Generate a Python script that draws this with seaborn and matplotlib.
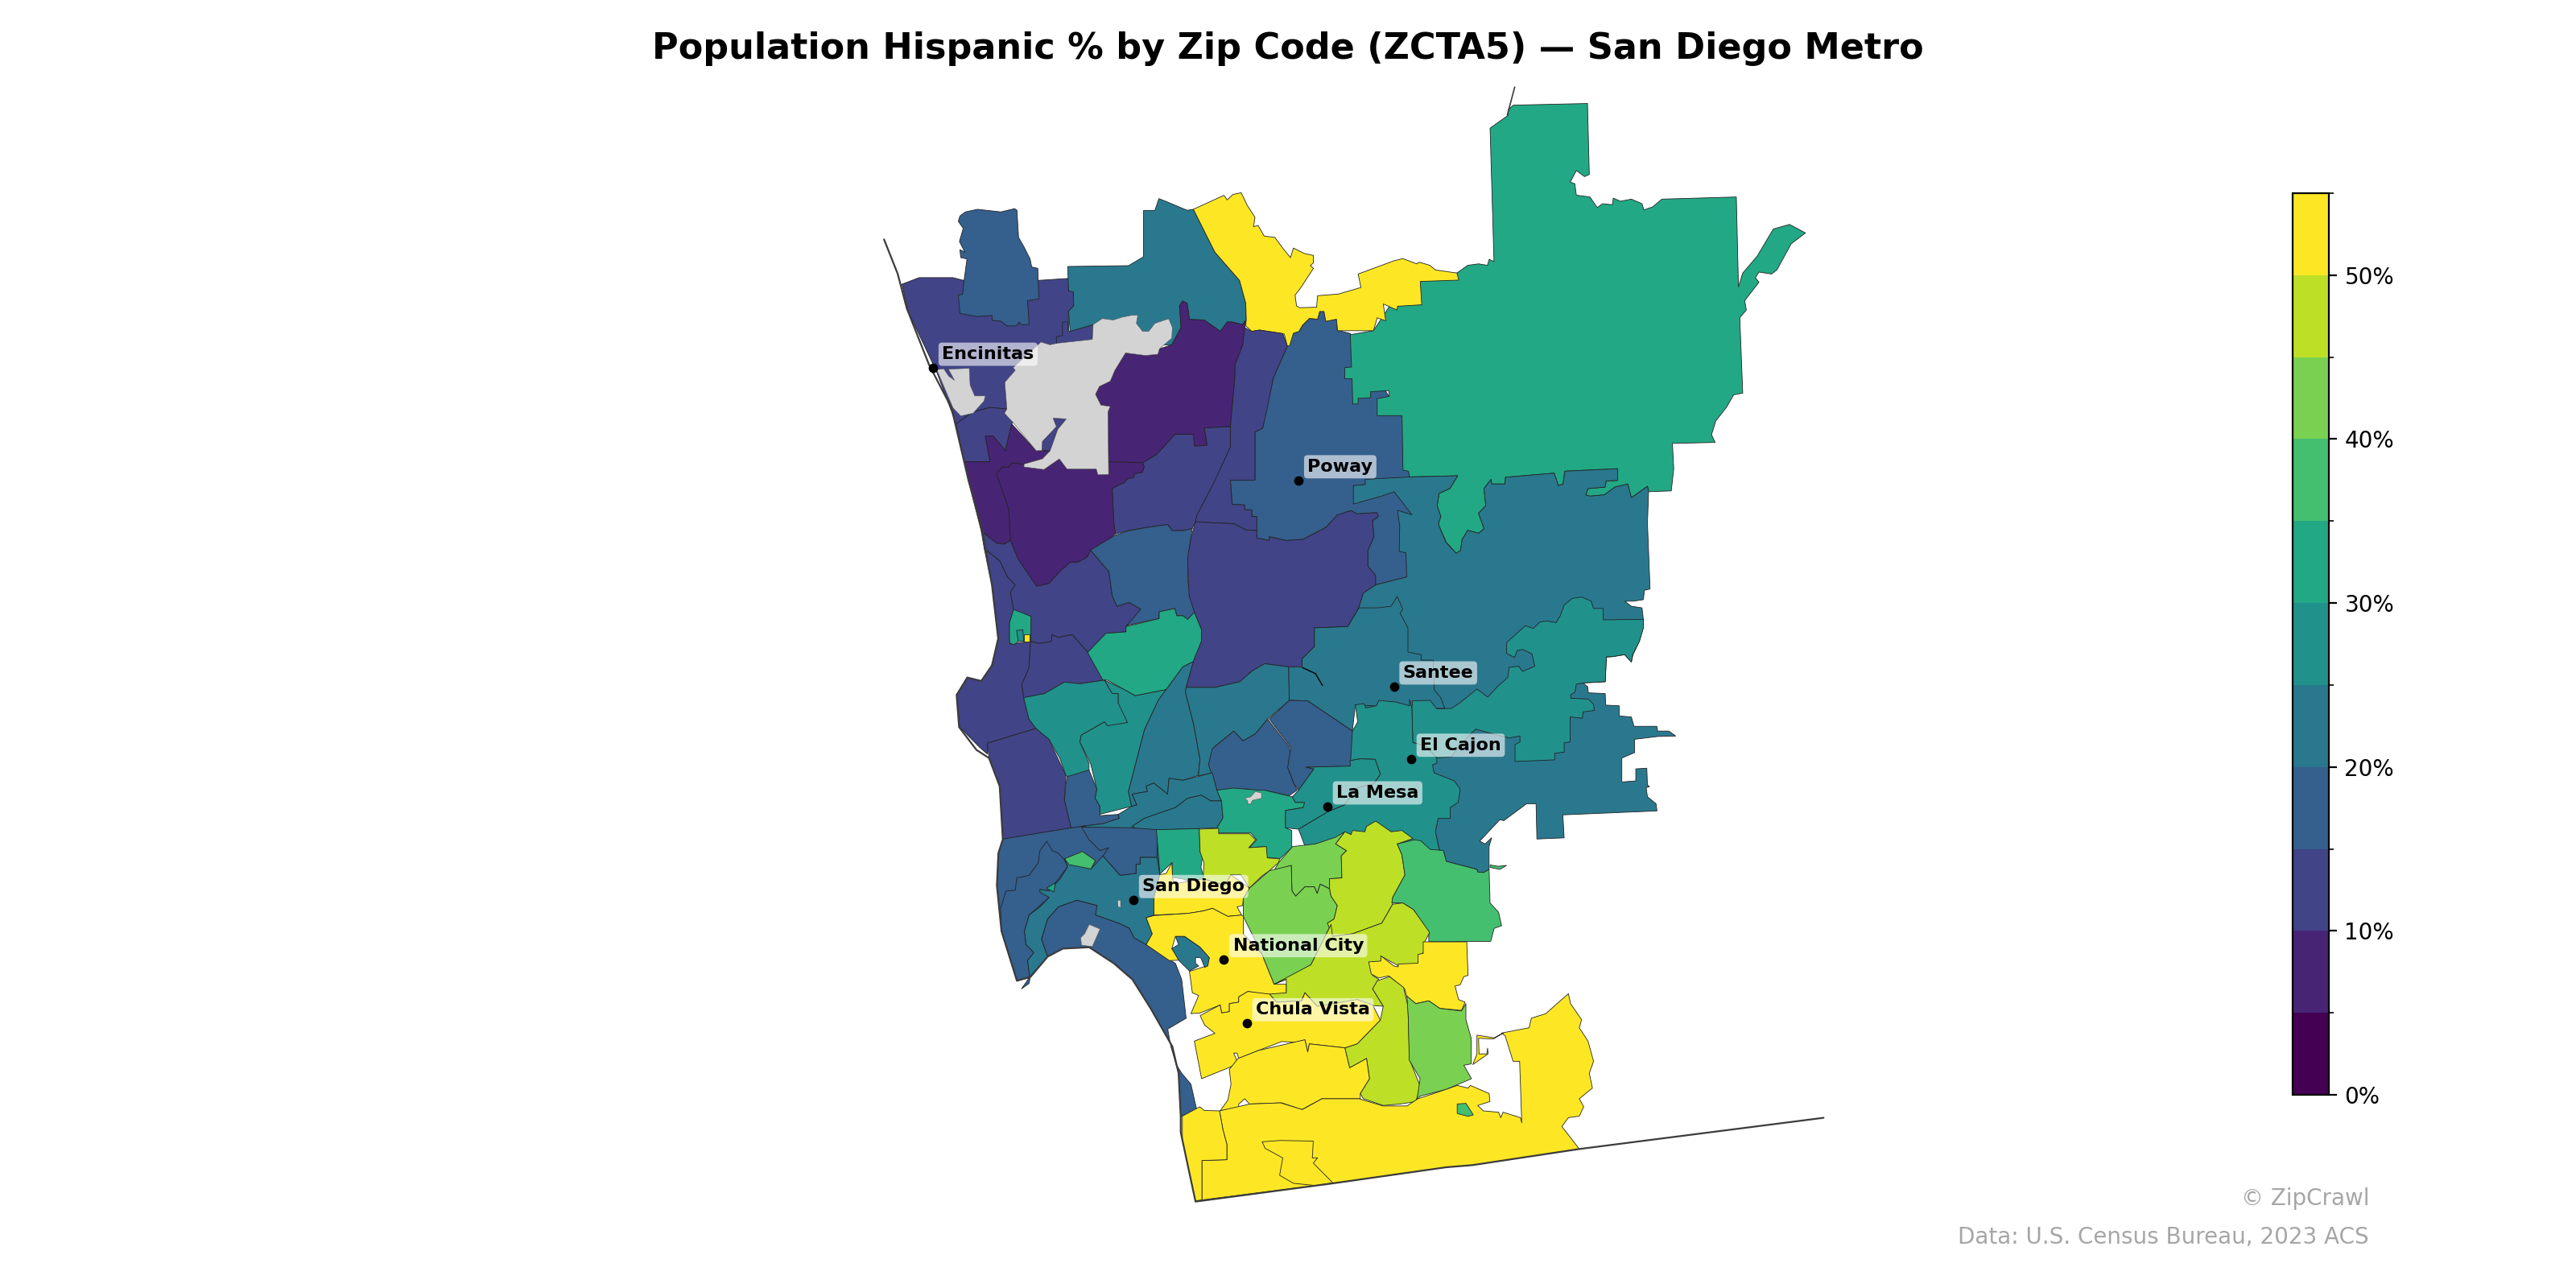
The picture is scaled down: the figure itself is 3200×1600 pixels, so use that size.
import numpy as np
import pandas as pd
import matplotlib
matplotlib.use("Agg")
import matplotlib.pyplot as plt
from matplotlib.cm import ScalarMappable
from matplotlib.collections import PolyCollection
from matplotlib.colors import Normalize
from matplotlib.ticker import MultipleLocator
import seaborn as sns

TITLE = "Population Hispanic % by Zip Code (ZCTA5) \u2014 San Diego Metro"
CREDIT = "\u00a9 ZipCrawl"
SOURCE = "Data: U.S. Census Bureau, 2023 ACS"

CITY_NAMES = ["Encinitas", "Poway", "Santee", "El Cajon", "La Mesa", "San Diego", "National City", "Chula Vista"]
CITY_X = [568, 790.5, 848.5, 859, 808, 690, 745, 759]
CITY_Y = [224, 292.5, 418, 462, 491, 548, 584, 623]

CBAR_TICKS = [0, 10, 20, 30, 40, 50]

# map outlines, listed back to front, (x, y) in map units
north_coast = [(549,173),(559.5,169),(580,169),(586.7,170.7),(631.7,170.7),(650,169.5),(653.3,177.5),(653.6,186.2),(650.4,189.5),(650.4,201.7),(665.4,197.6),(664.9,206.6),(640,215),(620,225),(611.6,232.7),(612.9,249),(602.6,248),(592.3,250.7),(582,258),(570,226),(553,190)]
leucadia = [(582,258),(592.3,250.7),(602.6,248),(612.9,249),(611.4,251.5),(616.7,257),(615.8,258),(612,274.4),(604.5,265.4),(599.8,265.4),(602.6,281),(587,281)]
oceanside = [(587.6,129),(595,127.4),(609.2,129),(617.6,127),(619,128),(620,144.5),(623.3,150.3),(627,157.6),(628,162.5),(631.7,163.3),(632.3,182),(625.5,183),(626.4,197.6),(621.4,197.6),(620.4,196),(618.6,198.4),(613,198.4),(609.2,195.5),(604,195),(603.8,192),(595,192.7),(584.3,190.8),(583.3,179.7),(586,179),(586.7,171.5),(588.6,157.6),(584.8,156.8),(584.3,152),(587.3,153.5),(584,147),(586.3,139),(583.3,134.7),(584.3,131.5)]
poway = [(783.6,210.7),(775,230),(771,248),(768.6,260.5),(764,263),(764,292),(749,292),(750,307),(757.6,307.4),(757.6,310.3),(762,310.3),(762,314.4),(765,314.4),(765,327.5),(772.6,329),(772.6,326.7),(783,329),(793,328.3),(807,321),(814,313.6),(822,310.8),(826,312.8),(838,312),(839,314.4),(835.4,317),(836.3,326.7),(832.6,335),(832.6,344.6),(837.3,350.3),(837.3,356),(856.3,351.2),(860,340),(862,300),(858,290.3),(853.4,253),(838,230),(823,210),(822,203),(814,201),(813.5,194.3),(807,195.6),(806,189.6),(803.3,189.6),(802,194.3),(797,193.8),(793,198),(790.6,201.8),(787.3,202.8)]
ramona = [(836,201.3),(850,180),(860,168),(886.8,166.2),(893.4,161.5),(900,160.6),(905.4,161.5),(906.5,157.8),(909.4,159.3),(907,78),(918,70.2),(918,66.8),(921.2,64),(966.3,63),(967.4,106.2),(964.5,107.5),(959.5,103.8),(955.8,110.9),(958.6,111.8),(959.5,118.8),(967.8,119.9),(972.2,126.3),(975.5,124),(981.4,124.6),(982,120.6),(986.4,122.5),(993,121.2),(999.5,124),(1000.6,127.8),(1006,125.9),(1011.6,121.2),(1056.9,119.9),(1058.2,174.6),(1060.8,166.2),(1069.6,155.9),(1079.4,139.4),(1089.3,136.6),(1099,141.8),(1090.3,148.4),(1081.6,164.3),(1078.3,166.8),(1070.7,165.6),(1068.5,169),(1070.7,171.8),(1062,183),(1063,188.7),(1059,193.4),(1060.8,239.3),(1055.3,240.3),(1051,247.8),(1044.4,256.2),(1041.8,264.6),(1044,269.3),(1018,269.9),(1018.8,285.3),(1017.3,298.8),(1003.5,299.3),(1002.8,296),(993,303),(990.8,294.6),(983,296.5),(976.6,301.2),(967.8,302),(965.2,301.2),(966.7,297.4),(977,296.5),(977.7,292.8),(984.7,292.4),(984.7,285.3),(952.5,286.8),(951.4,294.6),(948.6,295.6),(946,288),(916.4,290.5),(916,294.6),(908,294.6),(907.6,291.8),(903.3,297.4),(904.4,307.8),(900,312.4),(903.3,321.8),(900,324.6),(893.4,322.8),(890,328.4),(889,335),(886.4,336.8),(880.3,330),(875.5,319),(877,314.3),(874.8,307.8),(876,300.3),(882.5,297.4),(887.3,289.6),(858,290.3),(857.3,286.8),(854,286.2),(853.4,253),(838.3,253),(838.3,242.7),(845.7,241.2),(845.3,237.8),(834.3,238.4),(834.3,242.1),(826.7,242.5),(826.7,245.9),(823.4,245.9),(823,230.5),(818.6,230.5),(818.6,223.8),(822.7,223.4),(821.9,203.7)]
fallbrook = [(649.9,162.2),(687,161.7),(696,156.3),(696,128.2),(703,128),(705.4,120.9),(709.5,122.5),(722.6,128),(726.4,127.4),(739.5,153.5),(754.5,170.7),(758.3,184.6),(758.6,194.4),(756.4,197.6),(749.8,196),(747,196),(742.9,201.7),(733,194.8),(724,194.4),(722.6,184.6),(719.8,183.2),(718,186.2),(718.9,199.3),(713.3,209.9),(700,210),(665.4,197.6),(651.4,201.7),(650.4,189.5),(653.6,186.2),(653.3,177.5),(650.4,177.2)]
pala = [(726.4,127.4),(745,118.9),(747,121.7),(750.4,118.4),(755.5,117.3),(759.2,125),(763.9,132.3),(763,138),(765.8,137.2),(769.5,143.7),(776,144.5),(780.8,151),(785.5,156.8),(787.3,151),(794,154.3),(799.5,155.5),(799.5,160),(797.6,161.7),(799.5,163.3),(792,174.8),(788.3,179.7),(789.2,186.2),(791,187.3),(801.4,187),(802,180),(814.6,179),(828.4,175),(826.7,166.8),(848.6,158.7),(854,157.4),(862.3,160.6),(863.9,159.6),(870.4,161.5),(873.7,164.3),(886.8,166.2),(888,170.5),(864.5,171.3),(865.4,185.5),(850.7,186.4),(850.3,188.7),(842,185),(843.5,195.3),(838.3,193.4),(836,201.3),(814.2,201.3),(813.5,194.3),(807,195.6),(805.9,189.6),(803.3,189.6),(802,194.3),(797,193.8),(792.8,198),(790.6,201.8),(787.3,202.8),(785,210.3),(783.6,210.7),(781.7,203.3),(766.7,200.9),(762,201.7),(758.3,198.4),(758.6,194.4),(758.3,184.6),(754.5,170.7),(739.5,153.5)]
inland_strip = [(757.4,199.3),(762,201.7),(766.7,200.9),(780.8,203),(783.6,210.7),(775,230.3),(771.4,248.2),(768.6,260.5),(763.9,263),(763.9,292.3),(748.9,292.3),(749,294),(750,307),(757.6,307.4),(757.6,310.3),(761.9,310.3),(761.9,314.4),(765,314.4),(765,323),(758.5,322.6),(751,318.8),(727.6,317.7),(728.5,313.6),(738,295),(738.6,294),(748.9,272),(748.9,259.7),(751.7,228.6),(751.7,222),(756.4,210)]
bonsall = [(758.3,195),(756.4,210),(751.7,222),(751.7,228.6),(748.9,259.7),(733,260.5),(734.9,271),(727,271.6),(726.4,264.3),(715.1,264.3),(711.4,268.7),(703.9,276.8),(695.5,281.7),(674.8,281),(674.4,250.7),(675.8,247.4),(670.1,246.6),(666.8,240),(669.2,235.2),(675.8,232),(678.6,225.4),(685.1,214.8),(697.3,216.4),(704.8,215.6),(705.8,212.3),(713.3,209.9),(718.9,199.3),(718,186.2),(719.8,183.2),(722.6,184.6),(724,194.4),(733,194.8),(742.9,201.7),(747,196),(749.8,196),(756.4,197.6)]
escondido_west = [(683.5,294),(677,297.3),(677.9,316.9),(678.8,325),(688.2,322.6),(698.5,321),(710.7,319.3),(713.5,323),(720,323),(725.7,321.8),(727.6,317.7),(728.5,313.6),(738.8,294),(748.9,272),(748.9,259.7),(733,260.5),(734.9,271),(727,271.6),(726.4,264.3),(715.1,264.3),(711.4,268.7),(703.9,276.8),(695.5,281.7),(696.4,284),(695.4,287.4),(690.8,288.3),(689.8,290.7),(686,291.5),(684.2,294)]
san_marcos_hole = [(641,254.5),(649.1,255),(643.9,261.3),(639.2,274.4),(634.1,274),(634.5,268.7),(643,259.7)]
carmel_north = [(606.4,288.3),(610,284.2),(613.9,284.2),(615.8,281.7),(623.3,282.5),(635.4,285.8),(644.8,279.3),(649.5,285.5),(667.3,285.5),(668.3,289),(674.8,288.8),(674.8,281),(695.5,281.7),(696.4,284),(695.4,287.4),(690.8,288.3),(689.8,290.7),(686,291.5),(684.2,294),(683.5,294),(677,297.3),(677.9,316.9),(678.8,325),(670.4,333.2),(663.8,334.8),(662,339),(656.3,342.2),(651.6,342.2),(646,347),(638.5,355.2),(631,356.9),(619.8,340.5),(615,329),(614.1,310.3),(608.5,294)]
cardiff = [(587,281),(602.6,281),(599.8,265.4),(604.5,265.4),(612,274.4),(615.8,258),(630.8,274.4),(639.2,274.4),(634.5,279.3),(623.3,282.5),(615.8,281.7),(613.9,284.2),(610,284.2),(606.4,288.3),(608.5,294),(614,310),(615,329),(611.3,331.2),(606.6,330.7),(597.3,323.4),(589.8,294)]
del_mar = [(597.3,323.4),(606.6,330.7),(611.3,331.2),(615,329),(619.8,340.5),(631,356.9),(638.5,355.2),(646,347),(651.6,342.2),(656.3,342.2),(662,339),(663.8,334.8),(669.4,341.4),(675,348),(677,362.6),(679.8,369),(687.3,366.7),(694.4,370.8),(692.9,374),(685.4,381.4),(685.4,384.6),(674.1,385.5),(670.4,391.2),(662,396.9),(652.6,386.3),(644.1,388),(640.4,386.3),(640,390.4),(632.9,391.7),(627.3,390.4),(627.6,375.2),(617,371.6),(615,360.5),(617.9,356),(613.2,351.2),(608.5,341.4),(599.1,334)]
la_jolla_north = [(599.1,334),(608.5,341.4),(613.2,351.2),(617.9,356),(615,360.5),(617,371.6),(614.5,379),(615,392),(627.3,390.4),(626.3,406.7),(622,416.5),(623.1,424.7),(626.3,437.7),(630.6,443.4),(601,452.4),(601,459),(596.3,454.9),(584.1,442.6),(582.3,423),(588.8,412.4),(597.3,414.5),(603.8,405),(607.6,388.7),(603.8,356)]
pacific_beach = [(601,452.4),(630.6,443.4),(638.5,450),(648.8,472),(647.9,486.7),(652,503.9),(610.4,510.9),(608.5,478.6),(602,461.4)]
clairemont = [(627.3,390.4),(632.9,391.7),(640,390.4),(640.4,386.3),(644.1,388),(652.6,386.3),(662,396.9),(672.3,414),(657.3,416.2),(647.9,415.2),(635.7,422.2),(623.1,424.7),(622,416.5),(626.3,406.7)]
campus = [(617,371),(627.6,375.2),(627.3,390.4),(619.8,390.4),(617,392.5),(614.5,391.2),(614.5,379)]
campus_inner = [(618.8,383.8),(622.6,383.3),(623.1,390.4),(619.8,390.4)]
campus_dorms = [(623.1,386),(626.9,386),(626.9,390.4),(623.1,390.4)]
rancho_bernardo = [(663.8,334.8),(678.8,325.8),(687.3,323),(698.5,321),(710.7,319.3),(713.5,323),(720,323),(725.7,321.8),(723.8,335),(722.9,352.8),(724.8,364.2),(727,372.7),(722.9,377),(720,374.8),(716.3,374.8),(715,370.4),(705.6,372.4),(705.6,376.5),(686.3,380.6),(685.4,381.4),(694.4,370.8),(687.3,366.7),(679.8,369),(677,362.6),(675,348),(669.4,341.4)]
mira_mesa = [(662,397.2),(673.2,385.5),(685.4,384.6),(685.4,381.4),(705.6,376.5),(705.6,372.4),(715,370.4),(716.3,374.8),(720,374.8),(722.9,377),(727,372.7),(731.3,383),(731.3,390.4),(726.7,402.6),(720,405.9),(709.8,419.8),(691,423.5),(684.4,419.8),(674.1,414),(671.3,414)]
linda_vista = [(623.1,424.7),(635.7,422.2),(647.9,415.2),(657.3,416.2),(672.3,414),(677,422.2),(680.7,422.2),(680.7,428),(683.1,428.7),(686.3,439.8),(679.8,441.8),(674.1,441.8),(672.3,439.4),(658.2,447.5),(657.3,451.6),(662.9,464.7),(662.9,468.7),(657.3,471.2),(651.6,473.7),(648.8,472),(645,461.4),(638.5,450),(630.6,443.4),(626.3,437.7)]
kearny_mesa = [(672.3,414),(684.4,419.8),(691,423.5),(709.8,419.8),(705,426.3),(696.6,444.3),(686.9,481.8),(688.8,490.8),(669.4,495.7),(669.4,490.8),(666.6,485.9),(667.6,480.2),(663.8,464.7),(657.3,451.6),(658.2,447.5),(672.3,439.4),(674.1,441.8),(686.3,439.8),(680.7,428),(680.7,422.2),(677,422.2)]
tierrasanta = [(709.8,419.8),(720,405.9),(726.7,402.6),(722,418.1),(721.6,421.4),(726.6,441),(730.4,462.2),(729.4,472),(720,475),(711.6,473.7),(710.7,483.4),(702.3,476.6),(697.6,478.6),(698.5,481.8),(689.1,483.4),(692,490),(688.8,490.8),(686.9,481.8),(696.6,444.3),(705,426.3)]
alpine = [(823.8,295.6),(831,295),(831,291.8),(858,290.3),(887.3,289.6),(882.5,297.4),(876,300.3),(874.8,307.8),(877,314.3),(875.5,319),(880,330),(886.4,336.8),(889,335),(890,328.4),(893.4,322.8),(900,324.6),(903.3,321.8),(900,312.4),(904.4,307.8),(903.3,297.4),(907.6,291.8),(908,294.6),(916,294.6),(916.4,290.5),(946,288),(948.6,295.6),(951.4,294.6),(952.5,286.8),(984.7,285.3),(984.7,292.4),(977.7,292.8),(977,296.5),(966.7,297.4),(965.2,301.2),(967.8,302),(976.6,301.2),(983,296.5),(990.8,294.6),(993,303),(1002.8,296),(1003.5,299.3),(1002.8,318.5),(1004.4,358.5),(1001,359.3),(1000.3,365),(994.6,365.9),(989,366),(993,369),(999.5,370),(1000.3,377),(1000.3,382),(998,390),(994,398.5),(993,403),(989,398.5),(981.5,399.7),(977.8,400),(977.1,415),(963.6,415.7),(966.5,418.1),(966.8,421.7),(977.1,422.2),(977.4,429.2),(985.6,429.6),(985.6,435.8),(993,436.4),(994.6,442.1),(1008.5,442.1),(1009,445),(1015.8,445),(1020,448),(1009,448.3),(995,450),(995,458.1),(987.2,461.4),(987.2,476),(995.7,475.3),(995.7,468),(1002.4,467.6),(1002.8,477.7),(1004,478.9),(1002,479.4),(1002.8,485),(1008,489.2),(1008.6,493.6),(951.3,496),(952.1,510),(935.5,510.7),(935,489.2),(929.3,489.2),(915.4,499.5),(912.9,499),(900.7,512),(904,513.7),(908,509.9),(906.4,515.3),(906.4,529.2),(903.1,531.1),(899.5,530.8),(899,529.2),(880.3,524.3),(878.6,517.7),(876.2,517.7),(873.7,506.3),(875.4,498.2),(868,498),(864,470),(830,430),(790,420),(792.6,405.9),(792.6,401),(800.1,393.6),(800.1,382.2),(820.4,381.4),(827,370),(829.8,361),(837.3,356),(856.3,351.2),(855.8,336.5),(851.7,335.6),(852,320),(850.7,310.6),(859.5,313.4),(848.6,299.3),(840.9,302),(823.8,306.8)]
scripps = [(727.6,317.7),(751,318.8),(758.5,322.6),(765,323),(765,327.5),(772.6,329),(772.6,326.7),(783,329),(793.2,328.3),(807.3,321),(813.8,313.6),(822.3,310.8),(826,312.8),(838.2,312),(839,314.4),(835.4,316.9),(836.3,326.7),(832.6,334.8),(832.6,344.6),(837.3,350.3),(837.3,356),(829.8,361),(827,370),(820.4,381.4),(800.1,382.2),(800.1,393.6),(792.6,401),(792.6,405.9),(784.4,405.9),(769.8,404),(762.3,408.3),(754.8,414.9),(739.8,418.4),(722,418.4),(726.6,401.8),(731.3,390.4),(731.3,383),(727,372.4),(723.8,362.6),(722.9,339.7),(724.8,328.3)]
miramar = [(722,418.4),(739.8,418.4),(754.8,414.9),(762.3,408.3),(769.8,404),(784.4,405.9),(784.8,426.3),(771.6,437.7),(764.1,446.7),(756.6,451),(751,445),(739.8,454),(736,465.5),(737.9,470.4),(729.4,472.3),(730.4,462.2),(726.6,441),(721.6,421.4)]
santee = [(827.2,370),(838.6,370),(846.8,369),(850.5,363),(853.8,370.8),(852.2,373.2),(857,382.2),(857,396.9),(865,398.5),(865,401.8),(872.4,401.8),(873,419.8),(877,424.7),(879.4,431.2),(859,431),(825,429),(823.2,445),(796,426.6),(784.8,426.3),(784.4,405.9),(792.6,405.9),(792.6,401),(800.1,393.6),(800.1,382.2),(820.4,381.4)]
el_cajon_east = [(859.4,431.2),(859.8,426.6),(870.5,426.3),(874.6,431.5),(883.5,431.2),(888.4,428),(892.5,424.7),(899,419.4),(905.6,424.3),(911.3,418.1),(917.8,412.4),(918.6,406.2),(924.4,405.5),(926.8,408.7),(934.2,405.5),(932.5,398),(926.8,395.3),(923.5,396),(921.9,400.2),(917,397.7),(917,391.2),(919.8,388.7),(928.4,380.9),(933.3,382.5),(937.4,378.6),(941.5,378),(947.2,379),(949.7,374.8),(952.1,368.3),(957,364.2),(962.8,363.4),(968.5,365.9),(970,370.4),(975.8,370.4),(975.8,377.3),(1000.3,377),(1000.3,382.2),(997.9,390.4),(993.8,398.5),(993,403),(988.9,398.5),(981.5,399.7),(977.8,399.8),(977.1,414.9),(963.6,415.7),(959.5,416.5),(958.6,421.4),(955.9,423),(956.2,425),(966.8,425.5),(970,428.7),(970.4,432.5),(963.6,433.3),(963.2,437.2),(955.7,436.4),(955.7,451.6),(952.1,452.1),(952.1,457.8),(946.4,458.5),(946.4,462.5),(922.2,463.5),(922.2,453.2),(925.2,451.6),(925.2,448),(918.6,449.2),(906,446),(898.2,443.8),(890,452),(883.5,460.6),(874.6,461.4),(868,454),(860,452)]
el_cajon_west = [(825,429),(830.4,428.3),(831.3,430.9),(837.8,429.6),(839.4,426.3),(850,427.4),(858,429.6),(858,425.5),(859.4,431.2),(860,452),(868,454),(874.6,461.4),(874.6,464.7),(872,465.5),(872.9,470.4),(885.2,475.3),(888.8,480.2),(887.6,488.4),(882.7,491.6),(882.7,498.2),(875.4,498.2),(873.7,506.3),(876.2,517.7),(800,530),(790.4,504.7),(808.4,494),(818.2,490),(826.4,479.4),(836.2,477),(840.2,471.2),(837,462.2),(828,461.9),(821.8,463),(821.9,447.5),(826.4,439.4)]
san_carlos = [(756.6,451),(764.1,446.7),(771.6,437.7),(785,455),(785.7,467),(783.8,467),(787.6,477),(789.5,481),(784.8,484.3),(769.8,481),(768,484.3),(760,480.2),(740.7,481),(737.9,472),(735.6,465.5),(737.9,455.7),(751,445)]
mission_trails = [(772.6,437.7),(784.8,426.3),(796,426.6),(823.2,445),(821.9,466.3),(795,467),(799.8,468),(790.4,481),(787.6,477),(783.8,467),(785.7,455)]
base_coast_south = [(610.5,510.7),(652,503.9),(658.2,503),(664.8,503.9),(676,505.5),(689.5,504),(704.3,505),(706,532.5),(702.4,557),(697.7,575),(687,565),(660,550),(640,555),(628,590),(626.4,598.6),(621.8,601.9),(626.4,595.3),(619,597),(609.6,566.8),(606.8,539),(607.7,519.4)]
morena = [(649.4,472.8),(662.9,468.7),(667.6,480.2),(666.6,485.9),(669.4,490.8),(669.4,496.5),(680.7,495.7),(681.3,498.1),(671.3,501.4),(658.2,503),(652,503.9),(647.9,486.7)]
mission_valley = [(658.2,503),(671.3,501.4),(681.3,498.1),(680.7,495.7),(688.8,490.8),(692,490),(689.1,483.4),(698.5,481.8),(697.6,478.6),(702.3,476.6),(710.7,483.4),(711.6,473.7),(720,475),(737.9,470.4),(740.7,481),(743.5,487.5),(737,487.5),(731.3,484),(722.9,485.9),(715.4,491.6),(696.6,498.1),(689.1,503),(696.6,507),(689.5,504),(676,505.5),(664.8,503.9)]
grantville = [(689.1,503),(696.6,498.1),(715.4,491.6),(722.9,485.9),(731.3,484),(737,487.5),(743.5,487.5),(744.4,498),(740.7,503.9),(719.1,504.7),(704.1,505.2),(696.6,507)]
college = [(740.7,481),(751,479.7),(766,481),(769.8,481),(786.6,485),(788.5,488.4),(794.1,488.4),(793.2,491.6),(782.5,493.3),(782.5,503.9),(786.3,505.5),(786.3,516),(779.2,522.6),(770.7,521.8),(770.7,515.3),(760.4,516),(765,511.2),(761.3,507),(741.6,507),(740.7,503.9),(744.4,498),(743.5,487.5)]
college_pocket = [(757.6,485.9),(761.3,485),(764.1,481.8),(767.9,482.7),(767.9,485.9),(762.3,487.2),(761.3,489.5),(759.5,489.2),(759.5,487.5)]
la_mesa = [(786.6,485),(790.4,481),(799.8,468),(795,467),(821.9,466.3),(821.8,463),(828,461.9),(837,462.2),(840.2,471.2),(836.2,477),(826.4,479.4),(818.2,490),(808.4,494),(790.4,504.7),(782.5,503.9),(782.5,493.3),(793.2,491.6),(794.1,488.4),(788.5,488.4)]
point_loma = [(609,552.9),(612.4,542.3),(618,541.9),(618.9,534.4),(626.4,532.8),(632,525.1),(633,517.8),(637.1,512),(640.5,517.8),(644.3,519.4),(648,523.5),(649.9,527.6),(638.6,542.3),(633,541.4),(638.6,546.3),(626.4,557),(623.6,566.8),(624.6,575),(629.3,579.8),(625.5,584.7),(626.8,594.5),(619,597),(609.6,566.8)]
downtown = [(704.3,521.8),(694,521.8),(694,526),(691.5,526),(691.5,531.6),(681.8,532.8),(671.4,521),(664,529),(648,522.7),(649.9,527.6),(645.2,535),(638.6,542.3),(633,541.4),(633,543),(638.6,546.3),(633,552),(626.4,557),(623.6,566.8),(624.6,575),(629.3,579.8),(625.5,584.7),(626.8,594.5),(637.7,582.3),(634,571.7),(637.7,559.4),(644.3,552),(655.5,548),(667.7,551.2),(666.8,557),(680.8,561.9),(687.4,565),(690.2,570.8),(697.7,575),(701.4,568.4),(697.7,558.6),(702.4,557),(702.4,546.3),(706,532.5)]
north_park = [(658.3,503.4),(689.3,503.9),(704.3,505),(704.3,521.8),(694,521.8),(694,526),(691.5,526),(691.5,531.6),(681.8,532.8),(671.4,521),(674.8,516),(669.6,517.8),(663,511.2)]
balboa = [(648,522.7),(658.9,518.3),(666.8,523.8),(664,528.9),(650.8,526.3)]
old_town = [(637.1,540.6),(642.4,537.4),(641.4,543)]
coronado = [(637.7,582.3),(634,571.7),(637.7,559.4),(644.3,552),(655.5,548),(667.7,551.2),(666.8,557),(680.8,561.9),(687.4,565),(690.2,570.8),(697.7,575),(715.5,586.4),(719.3,596.2),(722,619.8),(710.8,626.4),(712.7,637),(717.4,653.3),(718.7,679.5),(728.6,676.2),(724.9,659.9),(719.3,653.3),(716,648),(713.6,637),(700.5,614),(689.3,596.2),(678,586.4),(663,576.6),(647,577.4)]
naval_base = [(663,562.7),(669.6,565.5),(664.9,576.2),(658.3,575.3),(657.8,570.8),(660.2,568.4)]
airport_sliver = [(680.3,548),(682.1,548),(682.1,552.4),(680.6,552)]
oak_park = [(703.9,505),(730,504.4),(730.5,518.6),(732,521),(731,528),(732.8,534),(732,540),(720,535),(713.5,534),(713.5,525),(706,532)]
city_heights = [(730,504.7),(741.8,504.2),(741.8,507.5),(760.5,507.5),(764.3,511.2),(760.1,516),(770.8,515.3),(771.4,522.2),(778.9,522.7),(778.3,525),(772.7,530),(768,533.3),(760.5,540.6),(755.3,532.5),(749.3,532.5),(745.5,539),(732.4,534.9),(732.8,525.1),(730.5,518.6)]
logan = [(713.3,525.1),(709.9,531.6),(706,532.5),(702.4,546.3),(702.4,557),(723,556),(732.4,554.5),(738,552.9),(747.4,557.8),(755.8,557),(753,552),(756.4,551.2),(756.8,547),(760.5,540.6),(749.3,532.5),(745.5,539),(732.4,534.9),(715,538),(713.8,535)]
encanto = [(778.3,525.1),(786.8,515.3),(800.8,513.7),(813,509.6),(818.6,506.3),(813,513.7),(819.6,517.8),(816.4,521),(816.8,534.4),(809.3,534.9),(809.3,541),(805.5,539),(803.6,538.2),(801.8,543.9),(800,539.8),(794.3,539.8),(788.7,545.5),(786.4,542.3),(786,526.8),(775.5,530)]
paradise_hills = [(786,526.8),(786.4,542.3),(788.7,545.5),(794.3,539.8),(800,539.8),(801.8,543.9),(803.6,538.2),(809.3,541),(810.2,545.5),(814,551.2),(812,559.4),(808,561.9),(810.2,562.7),(798,587.2),(783,596.2),(775.5,599.1),(768,580.6),(756.8,557.8),(756.8,547),(760.5,540.6),(772.7,530)]
spring_valley = [(816.4,521),(819.6,517.8),(813,513.7),(818.6,506.3),(822.4,508),(823.3,505.5),(830.8,506.3),(831.8,503),(837.4,499.8),(846.8,506.3),(853.3,505.5),(860,510.4),(850.5,513.7),(853.3,520.2),(855.2,532.5),(847.7,546.3),(847.7,550.4),(841.1,561.9),(823.3,568.4),(811.1,570),(808,561.9),(812,559.4),(814,551.2),(810.2,545.5),(809.3,541),(809.3,534.9),(816.8,534.4)]
rancho_san_diego = [(850.5,513.7),(860.7,511.2),(864.7,511.7),(870.5,517),(878.6,517.7),(880.3,524.3),(899,529.2),(899.5,530.8),(903.1,531.1),(906.4,529.2),(907,549.6),(912.2,555.3),(914,563.5),(909.5,565.1),(907.4,573),(869.7,573.3),(869.7,567.6),(860.4,553.7),(853.8,549.6),(847.2,549.6),(847.7,546.3),(855.2,532.5),(853.3,520.2)]
jamul_tail = [(907,526.5),(912,527.3),(917,526.8),(913,529.2),(907,528)]
national_city = [(697.7,558.6),(702.4,557.3),(723,556),(732.4,554.5),(738,552.9),(747.4,557.8),(755.8,557),(756.8,557.8),(756.8,568.4),(768,580.6),(775.5,599.1),(783,599.1),(783,604.3),(775.5,606),(759.6,603.5),(754,606.8),(754,610),(748.3,610.9),(748.3,615.8),(743.6,616.6),(742.7,611.7),(730.5,616.6),(724.9,617),(729.6,606),(725.8,604.3),(724,591.3),(734.3,588),(736.1,583),(730.5,576.6),(721,570),(715.5,570),(713.3,577.4),(718.3,584.4),(711.8,584.7),(697.7,575),(701.4,568.4)]
harbor_inlet = [(715.5,570),(721,570),(730.5,576.6),(736.1,583),(735.2,588),(733.3,588.8),(730.9,583),(727.7,582.8),(727.7,586.4),(729.6,588),(724,591),(717.4,584.4),(713.3,577.4),(717.4,575)]
bonita = [(775.5,599.1),(798,587.2),(810.2,562.7),(811.1,570),(823.3,568.4),(841.1,561.9),(847.7,550.4),(853.8,549.6),(860.4,553.7),(870.2,567.6),(867.4,573),(866.4,579.8),(863.6,582.3),(863.6,587.2),(851.4,588),(841.1,582.3),(840.2,585.5),(833.6,586.4),(835.5,593.7),(839.3,596.2),(835.5,601.9),(842,612.5),(835,612),(801.8,612.5),(794.3,604.3),(792,609.2),(777,610),(772.7,605.1),(783,604.3),(783,596)]
eastlake = [(866.3,573.3),(892.8,573.3),(893.6,593.7),(891,594.5),(888.8,599.4),(885.7,600.2),(887.8,608.4),(891.8,610),(889.6,615),(876.4,613.8),(869.7,609.2),(861.8,610.9),(856.4,606.8),(855,601.9),(845.3,594),(839.2,595.3),(834.7,592.9),(833.1,585.5),(840.5,585),(840.5,581.8),(848.5,588),(851.1,588.5),(851.1,586.8),(863.1,586.3),(863.1,581),(866.3,580.3)]
chula_vista_east = [(838.3,597),(845.8,594.5),(854.3,601),(857,612.5),(858,645),(864.6,661.5),(861.8,670.5),(852.4,672),(842,672.9),(829.9,668.8),(828,665.6),(833.6,656.6),(831.8,644.3),(821.5,650),(818.6,637.8),(826.1,635.4),(840.2,620.9),(842,612.5),(835.5,601.9)]
otay_ranch = [(856.4,606.3),(861.8,610.9),(869.7,609.2),(876.4,613.8),(889.6,615.4),(892.3,610.9),(892.3,620.7),(895.5,632),(895.5,647.6),(891,648.4),(895.7,656.6),(880.3,663.1),(864.4,667.2),(862.5,669.6),(864.4,656.6),(857.8,645.2),(857.2,619)]
chula_vista = [(730.5,618.2),(742.7,611.7),(743.6,616.6),(748.3,615.8),(748.3,610.9),(754,610),(754,606.8),(759.6,603.5),(772.7,605.1),(777,610),(792.4,609.2),(794.3,604.3),(801.8,612.5),(826.1,608.4),(835.5,611.7),(840.2,620.9),(826.1,635.4),(818.6,637.8),(797,635.4),(796,640.3),(794.3,632.9),(789.6,634.5),(780.2,634),(766.1,639.4),(754,644.3),(753,641),(751,641),(753.6,647.6),(731.4,656.6),(727,633.7),(739.5,629),(733.3,624)]
otay_west = [(742.7,676.2),(754,676.2),(754,672),(757.7,668.8),(760.5,672),(780.2,671.3),(792.4,675.4),(804.6,668.8),(828,668.8),(828,665.6),(833.6,656.6),(831.8,644.3),(821.5,650),(818.6,637.8),(797,635.4),(796,640.3),(794.3,632.9),(766.1,639.4),(753.6,644.3),(748.3,650.9),(749.3,660),(747.4,669.6)]
otay_mesa = [(742.3,676.2),(760.9,672),(779.4,671.3),(792.7,675.4),(804.7,668.8),(827.2,668.8),(841.8,673.2),(856.4,673.2),(863.1,668.8),(880.3,663.1),(887,660.7),(893.6,662.3),(895,660.7),(906.4,665.6),(906.9,670.5),(899.5,672.9),(902.9,676.2),(912.2,677),(913.5,680.3),(914.9,677),(925.5,680.3),(926.3,683.5),(925,646),(921,646),(916.2,630.5),(914,628.8),(930.8,625.6),(932.1,619.8),(940.9,617),(954.7,604.8),(956,610.9),(962.7,620.7),(961.3,625.6),(966.6,633.7),(970,646),(967.4,653.3),(969.3,662.3),(961.3,668.8),(964,673.7),(961.3,679.4),(954.7,680.3),(950.7,685.7),(956,692.5),(961.3,699.4),(896.3,709.2),(880.3,710.5),(811.3,720.3),(731.6,730.4),(731.6,706.4),(746.8,705.9),(746.8,696.6),(744.4,687.6)]
imperial_beach = [(719.7,679.4),(730.3,673.7),(733,675.9),(742.3,676.2),(744.4,687.6),(746.8,696.6),(746.8,705.9),(731.6,706.4),(731.6,730.4),(727.7,730.9),(719.7,694)]
san_ysidro = [(768.3,695),(779.4,694.2),(799.4,694.6),(798.8,704.8),(802,704.8),(799.4,708),(811.3,720),(800.7,721.6),(787.4,720.3),(778.9,715.4),(780.8,704.8),(770.1,699)]
border_pocket = [(887,672),(892.3,671.6),(896.8,678.6),(893.6,679.5),(887,677.8)]
otay_sliver = [(899,630.1),(909.5,631.7),(915,628.8),(909,632.4),(900,632),(900.3,641.5),(905,641.5),(905.5,638),(905.8,641.5),(896.5,648),(899,641.5)]
camp_pendleton_gap = [(665.4,197.6),(671,193.9),(677.6,194.8),(683.3,193),(688.9,191.9),(692.6,191.9),(691.7,196.8),(695.5,201.7),(699.2,201.7),(703,196.8),(711.4,194),(713.6,199.3),(713.3,205.8),(705.8,212.3),(704.8,215.6),(697.3,216.4),(685.1,214.8),(678.6,225.4),(675.8,232),(669.2,235.2),(666.8,240),(670.1,246.6),(675.8,247.4),(674.4,250.7),(674.8,288.8),(668.3,289),(667.3,285.5),(649.5,285.5),(644.8,279.3),(635.4,285.8),(623.3,284.2),(623.3,282.5),(634.5,279.3),(639.2,274.4),(643.9,261.3),(649.1,255),(641,254.5),(643,259.7),(634.5,268.7),(634.1,274),(630.8,274.4),(616.7,257.2),(611.4,251.5),(612.9,249),(611.6,232.7),(618,225.4),(616.7,223.8),(633.6,208.2),(639.2,209.9),(643,209),(664.9,206.6)]
encinitas_gap = [(570.2,225),(574.5,224.5),(577.5,229),(581,231.5),(577.3,224.7),(590,224.2),(590.5,234.4),(593.3,241),(599.8,241),(598.9,244.2),(592.3,251.5),(584.8,253.2),(580.1,248.3)]

ZONE_OUTLINES = [
    north_coast, leucadia, oceanside, poway, ramona, fallbrook, pala, inland_strip, bonsall,
    escondido_west, san_marcos_hole, carmel_north, cardiff, del_mar, la_jolla_north, pacific_beach,
    clairemont, campus, campus_inner, campus_dorms, rancho_bernardo, mira_mesa, linda_vista,
    kearny_mesa, tierrasanta, alpine, scripps, miramar, santee, el_cajon_east, el_cajon_west,
    san_carlos, mission_trails, base_coast_south, morena, mission_valley, grantville, college,
    la_mesa, point_loma, downtown, north_park, balboa, old_town, coronado, oak_park, city_heights,
    logan, encanto, paradise_hills, spring_valley, rancho_san_diego, jamul_tail, national_city,
    harbor_inlet, bonita, eastlake, chula_vista_east, otay_ranch, chula_vista, otay_west, otay_mesa,
    imperial_beach, san_ysidro, border_pocket, otay_sliver,
]
ZONE_PCT = [
    12, 12, 17, 17, 32, 22, 53, 12, 8,
    12, 12, 8, 8, 12, 12, 12,
    12, 32, 27, 53, 17, 32, 27,
    27, 22, 22, 12, 22, 22, 27, 27,
    17, 17, 17, 17, 22, 22, 32,
    27, 17, 22, 17, 37, 32, 17, 32, 47,
    53, 42, 42, 47, 37, 37, 53,
    22, 47, 53, 47, 42, 53, 53, 53,
    53, 53, 37, 53,
]

# zones with no data
NODATA_OUTLINES = [camp_pendleton_gap, encinitas_gap, college_pocket, naval_base, airport_sliver]

coast_x = [538.1,546.4,552,565.5,579.2,589.5,598.2,601,603.8,607.6,603.8,597.3,588.8,582.3,583.8,594.4,602,608.5,610.4,607.7,606.8,609.6,619,627.4,637.7,647,663,678,689.3,700.5,713.6,717.4,718.7,718.7,727.7,811.3,880.3,896.3,961.3,1110]
coast_y = [145.7,166.6,187.8,222,248.3,292.3,323.4,341.4,356,388.7,405,414.5,412.4,423,442.6,456.5,461.4,478.6,510.9,519.4,539,566.8,597,594.5,582.3,577.4,576.6,586.4,596.2,614,637,653.3,679.5,689.2,731.4,720.3,710.5,709.2,699.4,680.4]
stub_north_x = [922,917.5]
stub_north_y = [53,70]
stub_mira_x = [792.9,800.7,805]
stub_mira_y = [406.4,410,417.3]
line_notch_x = [643,643,646.7,646.7,649.9,650.4]
line_notch_y = [209,205,204.2,196,196,201.7]

sns.set_theme(style="white", rc={
    "text.color": "black", "axes.edgecolor": "black", "ytick.color": "black",
    "axes.labelcolor": "black", "axes.linewidth": 0.8,
})
plt.rcParams["font.family"] = ["DejaVu Sans"]

cmap = plt.get_cmap("viridis", 11)
norm = Normalize(0, 55)

fig = plt.figure(figsize=(16, 8), dpi=200, facecolor="white")
ax = fig.add_axes([0, 0, 1, 1])

zones = PolyCollection(ZONE_OUTLINES, array=np.array(ZONE_PCT, dtype=float), cmap=cmap, norm=norm,
                       edgecolors="#222222", linewidths=0.3, zorder=2)
ax.add_collection(zones)
nodata = PolyCollection(NODATA_OUTLINES, facecolors="lightgrey", edgecolors="#555555", linewidths=0.2, zorder=3)
ax.add_collection(nodata)

ax.plot(coast_x, coast_y, color="#3c3c3c", linewidth=0.8, zorder=4)
ax.plot(stub_north_x, stub_north_y, color="#3c3c3c", linewidth=0.6, zorder=4)
ax.plot(stub_mira_x, stub_mira_y, color="black", linewidth=0.5, zorder=4)
ax.plot(line_notch_x, line_notch_y, color="#222222", linewidth=0.3, zorder=4)

cities = pd.DataFrame({"name": CITY_NAMES, "x": CITY_X, "y": CITY_Y})
sns.scatterplot(data=cities, x="x", y="y", color="black", s=18, linewidth=0, ax=ax, zorder=6, legend=False)
ax.set_xlim(0, 1568)
ax.set_ylim(784, 0)
ax.axis("off")
for _, row in cities.iterrows():
    ax.annotate(row["name"], (row["x"], row["y"]), xytext=(4, 4), textcoords="offset points",
                fontsize=8, fontweight="bold", color="black", zorder=7,
                bbox=dict(boxstyle="round,pad=0.2", facecolor="white", edgecolor="none", alpha=0.6))

fig.text(0.5, 0.9625, TITLE, ha="center", va="center", fontsize=16, fontweight="bold", color="black")
fig.text(2943 / 3200, 1 - 1489 / 1600, CREDIT, ha="right", va="center", fontsize=10, color="#a6a6a6")
fig.text(2943 / 3200, 1 - 1537 / 1600, SOURCE, ha="right", va="center", fontsize=10, color="#a6a6a6")

cax = fig.add_axes([2848 / 3200, 1 - 1360 / 1600, 45 / 3200, 1120 / 1600])
cbar = fig.colorbar(ScalarMappable(norm=norm, cmap=cmap), cax=cax, orientation="vertical")
cbar.set_ticks(CBAR_TICKS)
cbar.set_ticklabels([f"{t}%" for t in CBAR_TICKS])
cax.yaxis.set_minor_locator(MultipleLocator(5))
cax.tick_params(axis="y", which="major", length=3.5, width=0.8, labelsize=10, right=True, left=False, color="black")
cax.tick_params(axis="y", which="minor", length=2, width=0.6, right=True, left=False, color="black")
cbar.outline.set_edgecolor("black")
cbar.outline.set_linewidth(0.8)

fig.savefig("out.png", dpi=200, facecolor="white")
plt.close(fig)
